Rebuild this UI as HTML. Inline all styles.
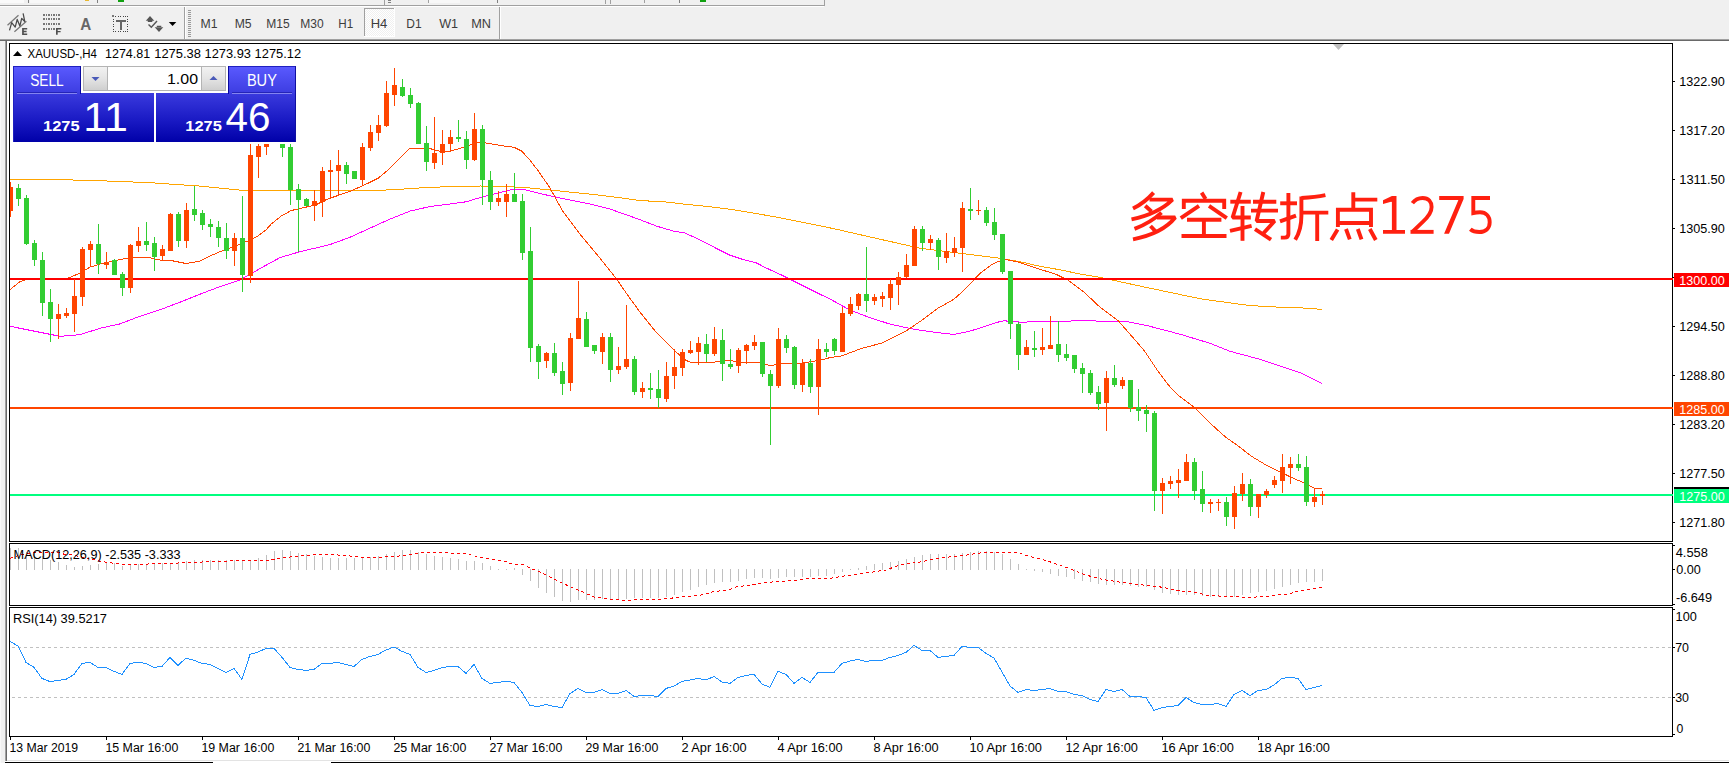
<!DOCTYPE html>
<html lang="en"><head><meta charset="utf-8"><title>XAUUSD-,H4</title>
<style>
html,body{margin:0;padding:0;background:#f0f0f0;}
body{width:1729px;height:763px;overflow:hidden;position:relative;font-family:"Liberation Sans",sans-serif;}
svg text{white-space:pre;}
</style></head><body>
<svg width="1729" height="763" viewBox="0 0 1729 763" font-family='"Liberation Sans", sans-serif' style="position:absolute;left:0;top:0;display:block">
<defs>
<linearGradient id="gTop" x1="0" y1="0" x2="0" y2="1"><stop offset="0" stop-color="#5a5aff"/><stop offset="1" stop-color="#3c3ce0"/></linearGradient>
<linearGradient id="gBot" x1="0" y1="0" x2="0" y2="1"><stop offset="0" stop-color="#3a3ade"/><stop offset="0.55" stop-color="#1a1ac4"/><stop offset="1" stop-color="#0000a8"/></linearGradient>
<linearGradient id="gBtn" x1="0" y1="0" x2="0" y2="1"><stop offset="0" stop-color="#f2f2f2"/><stop offset="0.5" stop-color="#e4e4e4"/><stop offset="1" stop-color="#cfcfcf"/></linearGradient>
<pattern id="dither" width="2" height="2" patternUnits="userSpaceOnUse"><rect width="2" height="2" fill="#ffffff"/><rect width="1" height="1" fill="#f0f0f0"/><rect x="1" y="1" width="1" height="1" fill="#f0f0f0"/></pattern>
<clipPath id="cMain"><rect x="10" y="44" width="1662" height="497"/></clipPath>
<clipPath id="cMacd"><rect x="10" y="544" width="1662" height="61"/></clipPath>
<clipPath id="cRsi"><rect x="10" y="608" width="1662" height="128"/></clipPath>
</defs>
<g shape-rendering="crispEdges">
<rect x="0" y="0" width="1729" height="763" fill="#f0f0f0"/>
<rect x="0" y="0" width="24" height="3" fill="#fafafa"/>
<rect x="28" y="0" width="1" height="3" fill="#808080"/>
<rect x="30" y="0" width="30" height="3" fill="#f8f8f8"/>
<rect x="85" y="0" width="4" height="1" fill="#e8b830"/>
<rect x="97" y="0" width="1" height="3" fill="#808080"/>
<rect x="118" y="0" width="6" height="2" fill="#10a010"/>
<rect x="384" y="0" width="1" height="5" fill="#a0a0a0"/>
<rect x="388" y="0" width="3" height="1" fill="#808080"/>
<rect x="388" y="2" width="3" height="1" fill="#808080"/>
<rect x="428" y="0" width="32" height="3" fill="#f8f8f8"/>
<rect x="428" y="0" width="1" height="3" fill="#a0a0a0"/>
<rect x="497" y="0" width="1" height="3" fill="#808080"/>
<rect x="605" y="0" width="1" height="4" fill="#a0a0a0"/>
<rect x="610" y="0" width="1" height="4" fill="#a0a0a0"/>
<rect x="644" y="0" width="1" height="3" fill="#a0a0a0"/>
<rect x="679" y="0" width="1" height="3" fill="#808080"/>
<rect x="700" y="0" width="6" height="2" fill="#10a010"/>
<rect x="824" y="0" width="1" height="6" fill="#a0a0a0"/>
<rect x="0" y="5" width="825" height="1" fill="#a0a0a0"/>
<rect x="0" y="6" width="824" height="1" fill="#ffffff"/>
<rect x="0" y="39" width="1729" height="1" fill="#a0a0a0"/>
<rect x="0" y="40" width="1729" height="1" fill="#696969"/>
<rect x="7" y="41" width="1722" height="720" fill="#ffffff"/>
<rect x="5" y="41" width="1" height="722" fill="#a0a0a0"/>
<rect x="6" y="41" width="1" height="722" fill="#696969"/>
<rect x="7" y="760" width="1722" height="1" fill="#e3e3e3"/>
<rect x="5" y="761" width="1724" height="1" fill="#ffffff"/>
<rect x="5" y="762" width="1724" height="1" fill="#000000"/>
<rect x="213" y="762" width="118" height="1" fill="#ffffff"/>
<rect x="0" y="60" width="1" height="703" fill="#f8f8f8"/>
</g>
<g id="toolbar">
<g shape-rendering="crispEdges">
<rect x="184" y="7" width="1" height="32" fill="#a0a0a0"/>
<rect x="185" y="7" width="1" height="32" fill="#ffffff"/>
<rect x="188" y="10" width="3" height="1" fill="#9a9a9a"/>
<rect x="188" y="12" width="3" height="1" fill="#9a9a9a"/>
<rect x="188" y="14" width="3" height="1" fill="#9a9a9a"/>
<rect x="188" y="16" width="3" height="1" fill="#9a9a9a"/>
<rect x="188" y="18" width="3" height="1" fill="#9a9a9a"/>
<rect x="188" y="20" width="3" height="1" fill="#9a9a9a"/>
<rect x="188" y="22" width="3" height="1" fill="#9a9a9a"/>
<rect x="188" y="24" width="3" height="1" fill="#9a9a9a"/>
<rect x="188" y="26" width="3" height="1" fill="#9a9a9a"/>
<rect x="188" y="28" width="3" height="1" fill="#9a9a9a"/>
<rect x="188" y="30" width="3" height="1" fill="#9a9a9a"/>
<rect x="188" y="32" width="3" height="1" fill="#9a9a9a"/>
<rect x="188" y="34" width="3" height="1" fill="#9a9a9a"/>
<rect x="188" y="36" width="3" height="1" fill="#9a9a9a"/>
<rect x="499" y="7" width="1" height="32" fill="#a0a0a0"/>
<rect x="500" y="7" width="1" height="32" fill="#ffffff"/>
<rect x="364" y="8" width="31" height="29" fill="url(#dither)"/>
<rect x="364" y="8" width="31" height="1" fill="#a0a0a0"/>
<rect x="364" y="8" width="1" height="29" fill="#a0a0a0"/>
<rect x="394" y="8" width="1" height="29" fill="#ffffff"/>
<rect x="364" y="36" width="31" height="1" fill="#ffffff"/>
</g>
<text x="200.6" y="28" font-size="12" fill="#3c3c3c" textLength="17.0" lengthAdjust="spacingAndGlyphs">M1</text>
<text x="234.7" y="28" font-size="12" fill="#3c3c3c" textLength="16.9" lengthAdjust="spacingAndGlyphs">M5</text>
<text x="266.2" y="28" font-size="12" fill="#3c3c3c" textLength="23.4" lengthAdjust="spacingAndGlyphs">M15</text>
<text x="300.2" y="28" font-size="12" fill="#3c3c3c" textLength="23.4" lengthAdjust="spacingAndGlyphs">M30</text>
<text x="338.3" y="28" font-size="12" fill="#3c3c3c" textLength="14.9" lengthAdjust="spacingAndGlyphs">H1</text>
<text x="370.7" y="28" font-size="12" fill="#3c3c3c" textLength="16.6" lengthAdjust="spacingAndGlyphs">H4</text>
<text x="406.3" y="28" font-size="12" fill="#3c3c3c" textLength="15.3" lengthAdjust="spacingAndGlyphs">D1</text>
<text x="439.2" y="28" font-size="12" fill="#3c3c3c" textLength="18.9" lengthAdjust="spacingAndGlyphs">W1</text>
<text x="471.2" y="28" font-size="12" fill="#3c3c3c" textLength="19.8" lengthAdjust="spacingAndGlyphs">MN</text>
<g id="icons" fill="none">
<path d="M7.5 25.3 L18.5 15.3 M14.4 31.8 L26.4 21.2" stroke="#7a7a7a" stroke-width="1.3"/>
<path d="M9.5 30.4 L11.7 22.7 L15.2 27.1 L17.2 19.4 L19.9 25.9 L21.7 18.4 L24.8 21.6 L23.1 13.3" stroke="#484848" stroke-width="1.25" stroke-linejoin="round"/>
</g>
<path d="M22.1 28.1 H27.2 V29.6 H23.8 V30.8 H26.6 V32.2 H23.8 V33.4 H27.2 V34.9 H22.1 Z" fill="#505050"/>
<g shape-rendering="crispEdges">
<rect x="43.0" y="14" width="1.5" height="2" fill="#777"/>
<rect x="45.55" y="14" width="1.5" height="2" fill="#777"/>
<rect x="48.1" y="14" width="1.5" height="2" fill="#777"/>
<rect x="50.65" y="14" width="1.5" height="2" fill="#777"/>
<rect x="53.2" y="14" width="1.5" height="2" fill="#777"/>
<rect x="55.75" y="14" width="1.5" height="2" fill="#777"/>
<rect x="58.3" y="14" width="1.5" height="2" fill="#777"/>
<rect x="43.0" y="18" width="1.5" height="2" fill="#777"/>
<rect x="45.55" y="18" width="1.5" height="2" fill="#777"/>
<rect x="48.1" y="18" width="1.5" height="2" fill="#777"/>
<rect x="50.65" y="18" width="1.5" height="2" fill="#777"/>
<rect x="53.2" y="18" width="1.5" height="2" fill="#777"/>
<rect x="55.75" y="18" width="1.5" height="2" fill="#777"/>
<rect x="58.3" y="18" width="1.5" height="2" fill="#777"/>
<rect x="43.0" y="23" width="1.5" height="2" fill="#777"/>
<rect x="45.55" y="23" width="1.5" height="2" fill="#777"/>
<rect x="48.1" y="23" width="1.5" height="2" fill="#777"/>
<rect x="50.65" y="23" width="1.5" height="2" fill="#777"/>
<rect x="53.2" y="23" width="1.5" height="2" fill="#777"/>
<rect x="55.75" y="23" width="1.5" height="2" fill="#777"/>
<rect x="58.3" y="23" width="1.5" height="2" fill="#777"/>
<rect x="43.0" y="28" width="1.5" height="2" fill="#777"/>
<rect x="45.55" y="28" width="1.5" height="2" fill="#777"/>
<rect x="48.1" y="28" width="1.5" height="2" fill="#777"/>
<rect x="50.65" y="28" width="1.5" height="2" fill="#777"/>
<rect x="53.2" y="28" width="1.5" height="2" fill="#777"/>
</g>
<path d="M56 28.1 H61.3 V29.6 H57.7 V30.9 H60.6 V32.3 H57.7 V34.8 H56 Z" fill="#505050"/>
<text x="80.3" y="29.6" font-size="16" fill="#666" textLength="11" lengthAdjust="spacingAndGlyphs" font-weight="bold">A</text>
<g shape-rendering="crispEdges">
<rect x="113.0" y="16" width="1" height="1" fill="#444"/>
<rect x="113.0" y="31" width="1" height="1" fill="#444"/>
<rect x="115.4" y="16" width="1" height="1" fill="#444"/>
<rect x="115.4" y="31" width="1" height="1" fill="#444"/>
<rect x="117.8" y="16" width="1" height="1" fill="#444"/>
<rect x="117.8" y="31" width="1" height="1" fill="#444"/>
<rect x="120.2" y="16" width="1" height="1" fill="#444"/>
<rect x="120.2" y="31" width="1" height="1" fill="#444"/>
<rect x="122.6" y="16" width="1" height="1" fill="#444"/>
<rect x="122.6" y="31" width="1" height="1" fill="#444"/>
<rect x="125.0" y="16" width="1" height="1" fill="#444"/>
<rect x="125.0" y="31" width="1" height="1" fill="#444"/>
<rect x="127.4" y="16" width="1" height="1" fill="#444"/>
<rect x="127.4" y="31" width="1" height="1" fill="#444"/>
<rect x="113" y="16.0" width="1" height="1" fill="#444"/>
<rect x="127.4" y="16.0" width="1" height="1" fill="#444"/>
<rect x="113" y="18.5" width="1" height="1" fill="#444"/>
<rect x="127.4" y="18.5" width="1" height="1" fill="#444"/>
<rect x="113" y="21.0" width="1" height="1" fill="#444"/>
<rect x="127.4" y="21.0" width="1" height="1" fill="#444"/>
<rect x="113" y="23.5" width="1" height="1" fill="#444"/>
<rect x="127.4" y="23.5" width="1" height="1" fill="#444"/>
<rect x="113" y="26.0" width="1" height="1" fill="#444"/>
<rect x="127.4" y="26.0" width="1" height="1" fill="#444"/>
<rect x="113" y="28.5" width="1" height="1" fill="#444"/>
<rect x="127.4" y="28.5" width="1" height="1" fill="#444"/>
<rect x="113" y="31.0" width="1" height="1" fill="#444"/>
<rect x="127.4" y="31.0" width="1" height="1" fill="#444"/>
<rect x="111.5" y="14.5" width="2.5" height="2" fill="#777"/>
<rect x="115.5" y="19.5" width="10" height="2" fill="#666"/>
<rect x="119.5" y="19.5" width="2.2" height="10" fill="#666"/>
</g>
<path d="M145.8 20.8 L150 16 L154.3 20.8 Z M147.8 20.5 h4.5 v1.5 h-4.5 Z" fill="#555"/>
<path d="M154.7 27.2 L159 32 L163.3 27.2 Z M156.8 25.8 h4.5 v1.6 h-4.5 Z" fill="#555"/>
<path d="M148.5 24.5 L151.3 27.3 L157 21" fill="none" stroke="#555" stroke-width="1.4"/>
<path d="M168.8 22 L176.3 22 L172.55 26 Z" fill="#000"/>
</g>
<g shape-rendering="crispEdges" fill="none" stroke="#000" stroke-width="1">
<rect x="9.5" y="43.5" width="1663" height="498"/>
<rect x="9.5" y="543.5" width="1663" height="62"/>
<rect x="9.5" y="607.5" width="1663" height="129"/>
</g>
<g id="main" clip-path="url(#cMain)">
<polyline points="10,179.5 62,179.7 110,181.1 150,182.7 200,186.1 240,190.1 290,190.5 350,190.8 370,190.7 400,189.4 410,188.5 430,187.4 450,186.6 470,186.4 480,186.0 510,186.7 530,188.0 550,190.0 570,192.1 590,194.1 610,196.5 630,199.1 640,200.6 663,201.7 686,204.3 709,206.6 732,209.5 756,213.5 779,217.6 802,222.2 825,226.8 840,230.1 880,239.2 920,248.2 960,253.2 980,255.8 1000,258.2 1020,261.7 1040,266.3 1060,269.8 1080,274.0 1100,277.3 1140,286.1 1180,294.5 1200,298.7 1220,301.5 1250,305.6 1280,307.2 1300,307.8 1322,309.4" fill="none" stroke="#FFA500" stroke-width="1" shape-rendering="crispEdges"/>
<polyline points="10,326.3 50,334.3 60,336.3 80,334.7 100,328.3 120,323.9 140,316.2 160,309.8 180,302.2 200,294.2 220,286.6 240,280.1 260,268.6 270,263.0 280,257.6 300,251.7 320,247.0 330,244.6 350,237.2 370,228.2 390,219.1 410,211.1 430,206.5 450,204.0 466,201.8 482,197.0 496,193.4 510,190.0 516,189.5 524,189.5 538,193.1 550,195.8 570,200.1 590,204.1 610,209.1 630,216.1 640,219.7 657,226.3 675,231.5 684,232.6 698,239.0 715,247.7 730,255.2 744,259.8 756,262.7 766,267.9 780,274.3 800,284.3 820,294.3 830,299.0 850,310.1 870,317.7 890,324.1 910,328.5 930,331.7 954,334.5 970,331.1 986,326.1 1000,321.5 1004,320.8 1020,322.1 1050,321.7 1060,321.5 1082,320.5 1110,321.5 1126,321.4 1148,325.8 1160,329.0 1180,334.2 1210,343.3 1230,351.3 1260,359.3 1280,365.9 1300,372.7 1322,383.4" fill="none" stroke="#FF00FF" stroke-width="1" shape-rendering="crispEdges"/>
<polyline points="10,289.6 20,281.7 26,279.7 40,279.0 66,278.6 70,277.4 80,273.1 90,267.1 100,264.1 120,259.5 136,257.1 150,257.7 160,260.1 172,260.7 186,263.5 200,261.1 212,255.1 224,250.1 236,246.0 250,240.0 258,236.0 266,230.0 271,224.2 281,216.2 291,210.6 301,208.2 315,205.2 325,200.2 333,197.2 350,191.4 370,182.3 378,178.3 390,168.3 402,156.3 410,148.2 430,148.6 442,151.9 450,151.3 464,147.2 478,142.2 488,143.2 502,145.8 514,147.2 522,151.3 530,160.3 538,170.5 550,188.0 562,210.0 580,234.2 600,258.2 616,278.3 630,298.4 640,312.1 656,332.1 674,350.2 686,360.4 691,362.4 712,362.4 720,361.4 728,360.2 744,362.6 758,362.6 770,365.6 784,363.6 800,363.6 820,360.2 830,357.6 842,355.8 862,348.2 882,343.1 906,331.1 922,320.1 938,308.2 954,299.2 966,288.3 980,273.3 992,264.3 1004,259.2 1018,261.9 1040,269.3 1056,274.3 1068,280.1 1084,292.1 1100,307.2 1118,320.5 1130,334.2 1144,350.3 1156,368.3 1168,384.6 1178,395.2 1194,407.1 1210,423.1 1226,437.5 1237,445.0 1251,456.0 1268,466.2 1280,472.0 1291.5,477.4 1303,482.5 1314,488.0 1322,488.4" fill="none" stroke="#FF4500" stroke-width="1" shape-rendering="crispEdges"/>
<g shape-rendering="crispEdges">
<rect x="10" y="278" width="1662" height="2" fill="#FF0000"/>
<rect x="10" y="407" width="1662" height="2" fill="#FF4500"/>
<rect x="10" y="494" width="1662" height="2" fill="#00FF7F"/>
<rect x="10" y="182" width="1" height="35" fill="#FF4500"/>
<rect x="8" y="187" width="5" height="24" fill="#FF4500"/>
<rect x="18" y="184" width="1" height="22" fill="#32CD32"/>
<rect x="16" y="188" width="5" height="11" fill="#32CD32"/>
<rect x="26" y="195" width="1" height="50" fill="#32CD32"/>
<rect x="24" y="198" width="5" height="46" fill="#32CD32"/>
<rect x="34" y="240" width="1" height="26" fill="#32CD32"/>
<rect x="32" y="243" width="5" height="17" fill="#32CD32"/>
<rect x="42" y="252" width="1" height="64" fill="#32CD32"/>
<rect x="40" y="260" width="5" height="43" fill="#32CD32"/>
<rect x="50" y="289" width="1" height="53" fill="#32CD32"/>
<rect x="48" y="302" width="5" height="17" fill="#32CD32"/>
<rect x="58" y="304" width="1" height="35" fill="#FF4500"/>
<rect x="56" y="314" width="5" height="5" fill="#FF4500"/>
<rect x="66" y="308" width="1" height="10" fill="#FF4500"/>
<rect x="64" y="313" width="5" height="3" fill="#FF4500"/>
<rect x="74" y="279" width="1" height="53" fill="#FF4500"/>
<rect x="72" y="296" width="5" height="18" fill="#FF4500"/>
<rect x="82" y="247" width="1" height="59" fill="#FF4500"/>
<rect x="80" y="249" width="5" height="48" fill="#FF4500"/>
<rect x="90" y="241" width="1" height="26" fill="#FF4500"/>
<rect x="88" y="244" width="5" height="6" fill="#FF4500"/>
<rect x="98" y="224" width="1" height="50" fill="#32CD32"/>
<rect x="96" y="244" width="5" height="20" fill="#32CD32"/>
<rect x="106" y="252" width="1" height="17" fill="#FF4500"/>
<rect x="104" y="262" width="5" height="3" fill="#FF4500"/>
<rect x="114" y="259" width="1" height="16" fill="#32CD32"/>
<rect x="112" y="260" width="5" height="15" fill="#32CD32"/>
<rect x="122" y="272" width="1" height="24" fill="#32CD32"/>
<rect x="120" y="274" width="5" height="14" fill="#32CD32"/>
<rect x="130" y="244" width="1" height="49" fill="#FF4500"/>
<rect x="128" y="245" width="5" height="43" fill="#FF4500"/>
<rect x="138" y="227" width="1" height="25" fill="#FF4500"/>
<rect x="136" y="241" width="5" height="5" fill="#FF4500"/>
<rect x="146" y="222" width="1" height="29" fill="#32CD32"/>
<rect x="144" y="241" width="5" height="4" fill="#32CD32"/>
<rect x="154" y="237" width="1" height="34" fill="#32CD32"/>
<rect x="152" y="243" width="5" height="14" fill="#32CD32"/>
<rect x="162" y="245" width="1" height="15" fill="#FF4500"/>
<rect x="160" y="249" width="5" height="7" fill="#FF4500"/>
<rect x="170" y="213" width="1" height="38" fill="#FF4500"/>
<rect x="168" y="214" width="5" height="37" fill="#FF4500"/>
<rect x="178" y="212" width="1" height="35" fill="#32CD32"/>
<rect x="176" y="214" width="5" height="27" fill="#32CD32"/>
<rect x="186" y="203" width="1" height="45" fill="#FF4500"/>
<rect x="184" y="210" width="5" height="31" fill="#FF4500"/>
<rect x="194" y="186" width="1" height="35" fill="#32CD32"/>
<rect x="192" y="209" width="5" height="6" fill="#32CD32"/>
<rect x="202" y="210" width="1" height="20" fill="#32CD32"/>
<rect x="200" y="213" width="5" height="12" fill="#32CD32"/>
<rect x="210" y="219" width="1" height="18" fill="#32CD32"/>
<rect x="208" y="224" width="5" height="3" fill="#32CD32"/>
<rect x="218" y="221" width="1" height="26" fill="#32CD32"/>
<rect x="216" y="227" width="5" height="11" fill="#32CD32"/>
<rect x="226" y="223" width="1" height="36" fill="#32CD32"/>
<rect x="224" y="238" width="5" height="13" fill="#32CD32"/>
<rect x="234" y="233" width="1" height="33" fill="#FF4500"/>
<rect x="232" y="238" width="5" height="13" fill="#FF4500"/>
<rect x="242" y="196" width="1" height="96" fill="#32CD32"/>
<rect x="240" y="238" width="5" height="37" fill="#32CD32"/>
<rect x="250" y="142" width="1" height="141" fill="#FF4500"/>
<rect x="248" y="155" width="5" height="121" fill="#FF4500"/>
<rect x="258" y="142" width="1" height="36" fill="#FF4500"/>
<rect x="256" y="146" width="5" height="11" fill="#FF4500"/>
<rect x="266" y="142" width="1" height="13" fill="#FF4500"/>
<rect x="264" y="144" width="5" height="3" fill="#FF4500"/>
<rect x="282" y="142" width="1" height="15" fill="#32CD32"/>
<rect x="280" y="142" width="5" height="6" fill="#32CD32"/>
<rect x="290" y="142" width="1" height="63" fill="#32CD32"/>
<rect x="288" y="147" width="5" height="43" fill="#32CD32"/>
<rect x="298" y="184" width="1" height="68" fill="#32CD32"/>
<rect x="296" y="189" width="5" height="11" fill="#32CD32"/>
<rect x="306" y="198" width="1" height="8" fill="#32CD32"/>
<rect x="304" y="199" width="5" height="7" fill="#32CD32"/>
<rect x="314" y="190" width="1" height="31" fill="#FF4500"/>
<rect x="312" y="201" width="5" height="5" fill="#FF4500"/>
<rect x="322" y="167" width="1" height="50" fill="#FF4500"/>
<rect x="320" y="171" width="5" height="31" fill="#FF4500"/>
<rect x="330" y="160" width="1" height="38" fill="#FF4500"/>
<rect x="328" y="170" width="5" height="2" fill="#FF4500"/>
<rect x="338" y="150" width="1" height="46" fill="#FF4500"/>
<rect x="336" y="165" width="5" height="6" fill="#FF4500"/>
<rect x="346" y="162" width="1" height="22" fill="#32CD32"/>
<rect x="344" y="165" width="5" height="9" fill="#32CD32"/>
<rect x="354" y="171" width="1" height="8" fill="#32CD32"/>
<rect x="352" y="171" width="5" height="8" fill="#32CD32"/>
<rect x="362" y="143" width="1" height="42" fill="#FF4500"/>
<rect x="360" y="147" width="5" height="33" fill="#FF4500"/>
<rect x="370" y="125" width="1" height="26" fill="#FF4500"/>
<rect x="368" y="132" width="5" height="16" fill="#FF4500"/>
<rect x="378" y="115" width="1" height="26" fill="#FF4500"/>
<rect x="376" y="125" width="5" height="8" fill="#FF4500"/>
<rect x="386" y="81" width="1" height="46" fill="#FF4500"/>
<rect x="384" y="93" width="5" height="33" fill="#FF4500"/>
<rect x="394" y="68" width="1" height="38" fill="#FF4500"/>
<rect x="392" y="85" width="5" height="10" fill="#FF4500"/>
<rect x="402" y="79" width="1" height="18" fill="#32CD32"/>
<rect x="400" y="87" width="5" height="9" fill="#32CD32"/>
<rect x="410" y="88" width="1" height="20" fill="#32CD32"/>
<rect x="408" y="95" width="5" height="9" fill="#32CD32"/>
<rect x="418" y="102" width="1" height="42" fill="#32CD32"/>
<rect x="416" y="103" width="5" height="41" fill="#32CD32"/>
<rect x="426" y="126" width="1" height="45" fill="#32CD32"/>
<rect x="424" y="143" width="5" height="19" fill="#32CD32"/>
<rect x="434" y="117" width="1" height="52" fill="#FF4500"/>
<rect x="432" y="153" width="5" height="10" fill="#FF4500"/>
<rect x="442" y="130" width="1" height="35" fill="#FF4500"/>
<rect x="440" y="144" width="5" height="9" fill="#FF4500"/>
<rect x="450" y="130" width="1" height="22" fill="#FF4500"/>
<rect x="448" y="137" width="5" height="7" fill="#FF4500"/>
<rect x="458" y="120" width="1" height="22" fill="#32CD32"/>
<rect x="456" y="137" width="5" height="2" fill="#32CD32"/>
<rect x="466" y="131" width="1" height="38" fill="#32CD32"/>
<rect x="464" y="139" width="5" height="21" fill="#32CD32"/>
<rect x="474" y="113" width="1" height="48" fill="#FF4500"/>
<rect x="472" y="129" width="5" height="31" fill="#FF4500"/>
<rect x="482" y="125" width="1" height="80" fill="#32CD32"/>
<rect x="480" y="129" width="5" height="51" fill="#32CD32"/>
<rect x="490" y="171" width="1" height="39" fill="#32CD32"/>
<rect x="488" y="180" width="5" height="22" fill="#32CD32"/>
<rect x="498" y="191" width="1" height="15" fill="#FF4500"/>
<rect x="496" y="198" width="5" height="4" fill="#FF4500"/>
<rect x="506" y="184" width="1" height="33" fill="#FF4500"/>
<rect x="504" y="194" width="5" height="8" fill="#FF4500"/>
<rect x="514" y="173" width="1" height="29" fill="#32CD32"/>
<rect x="512" y="194" width="5" height="8" fill="#32CD32"/>
<rect x="522" y="194" width="1" height="66" fill="#32CD32"/>
<rect x="520" y="201" width="5" height="52" fill="#32CD32"/>
<rect x="530" y="227" width="1" height="135" fill="#32CD32"/>
<rect x="528" y="251" width="5" height="97" fill="#32CD32"/>
<rect x="538" y="344" width="1" height="35" fill="#32CD32"/>
<rect x="536" y="346" width="5" height="16" fill="#32CD32"/>
<rect x="546" y="352" width="1" height="16" fill="#FF4500"/>
<rect x="544" y="353" width="5" height="8" fill="#FF4500"/>
<rect x="554" y="343" width="1" height="33" fill="#32CD32"/>
<rect x="552" y="353" width="5" height="20" fill="#32CD32"/>
<rect x="562" y="362" width="1" height="33" fill="#32CD32"/>
<rect x="560" y="371" width="5" height="13" fill="#32CD32"/>
<rect x="570" y="333" width="1" height="58" fill="#FF4500"/>
<rect x="568" y="338" width="5" height="45" fill="#FF4500"/>
<rect x="578" y="281" width="1" height="58" fill="#FF4500"/>
<rect x="576" y="318" width="5" height="21" fill="#FF4500"/>
<rect x="586" y="312" width="1" height="35" fill="#32CD32"/>
<rect x="584" y="319" width="5" height="28" fill="#32CD32"/>
<rect x="594" y="345" width="1" height="9" fill="#32CD32"/>
<rect x="592" y="345" width="5" height="6" fill="#32CD32"/>
<rect x="602" y="333" width="1" height="31" fill="#FF4500"/>
<rect x="600" y="337" width="5" height="15" fill="#FF4500"/>
<rect x="610" y="333" width="1" height="49" fill="#32CD32"/>
<rect x="608" y="337" width="5" height="33" fill="#32CD32"/>
<rect x="618" y="347" width="1" height="27" fill="#FF4500"/>
<rect x="616" y="366" width="5" height="4" fill="#FF4500"/>
<rect x="626" y="305" width="1" height="64" fill="#FF4500"/>
<rect x="624" y="359" width="5" height="8" fill="#FF4500"/>
<rect x="634" y="356" width="1" height="39" fill="#32CD32"/>
<rect x="632" y="359" width="5" height="33" fill="#32CD32"/>
<rect x="642" y="382" width="1" height="16" fill="#FF4500"/>
<rect x="640" y="388" width="5" height="4" fill="#FF4500"/>
<rect x="650" y="373" width="1" height="26" fill="#32CD32"/>
<rect x="648" y="388" width="5" height="2" fill="#32CD32"/>
<rect x="658" y="370" width="1" height="38" fill="#32CD32"/>
<rect x="656" y="389" width="5" height="9" fill="#32CD32"/>
<rect x="666" y="362" width="1" height="40" fill="#FF4500"/>
<rect x="664" y="376" width="5" height="23" fill="#FF4500"/>
<rect x="674" y="349" width="1" height="40" fill="#FF4500"/>
<rect x="672" y="367" width="5" height="9" fill="#FF4500"/>
<rect x="682" y="349" width="1" height="27" fill="#FF4500"/>
<rect x="680" y="352" width="5" height="16" fill="#FF4500"/>
<rect x="690" y="341" width="1" height="13" fill="#FF4500"/>
<rect x="688" y="350" width="5" height="3" fill="#FF4500"/>
<rect x="698" y="337" width="1" height="28" fill="#FF4500"/>
<rect x="696" y="343" width="5" height="9" fill="#FF4500"/>
<rect x="706" y="334" width="1" height="28" fill="#32CD32"/>
<rect x="704" y="344" width="5" height="10" fill="#32CD32"/>
<rect x="714" y="327" width="1" height="29" fill="#FF4500"/>
<rect x="712" y="339" width="5" height="15" fill="#FF4500"/>
<rect x="722" y="329" width="1" height="52" fill="#32CD32"/>
<rect x="720" y="340" width="5" height="24" fill="#32CD32"/>
<rect x="730" y="349" width="1" height="20" fill="#32CD32"/>
<rect x="728" y="364" width="5" height="3" fill="#32CD32"/>
<rect x="738" y="348" width="1" height="25" fill="#FF4500"/>
<rect x="736" y="350" width="5" height="16" fill="#FF4500"/>
<rect x="746" y="344" width="1" height="20" fill="#FF4500"/>
<rect x="744" y="345" width="5" height="6" fill="#FF4500"/>
<rect x="754" y="335" width="1" height="15" fill="#FF4500"/>
<rect x="752" y="342" width="5" height="4" fill="#FF4500"/>
<rect x="762" y="342" width="1" height="35" fill="#32CD32"/>
<rect x="760" y="342" width="5" height="32" fill="#32CD32"/>
<rect x="770" y="370" width="1" height="75" fill="#32CD32"/>
<rect x="768" y="374" width="5" height="12" fill="#32CD32"/>
<rect x="778" y="328" width="1" height="60" fill="#FF4500"/>
<rect x="776" y="339" width="5" height="47" fill="#FF4500"/>
<rect x="786" y="335" width="1" height="18" fill="#32CD32"/>
<rect x="784" y="339" width="5" height="9" fill="#32CD32"/>
<rect x="794" y="346" width="1" height="43" fill="#32CD32"/>
<rect x="792" y="347" width="5" height="38" fill="#32CD32"/>
<rect x="802" y="359" width="1" height="33" fill="#FF4500"/>
<rect x="800" y="363" width="5" height="22" fill="#FF4500"/>
<rect x="810" y="359" width="1" height="34" fill="#32CD32"/>
<rect x="808" y="363" width="5" height="24" fill="#32CD32"/>
<rect x="818" y="339" width="1" height="76" fill="#FF4500"/>
<rect x="816" y="349" width="5" height="38" fill="#FF4500"/>
<rect x="826" y="343" width="1" height="14" fill="#32CD32"/>
<rect x="824" y="349" width="5" height="3" fill="#32CD32"/>
<rect x="834" y="338" width="1" height="17" fill="#32CD32"/>
<rect x="832" y="339" width="5" height="12" fill="#32CD32"/>
<rect x="842" y="307" width="1" height="45" fill="#FF4500"/>
<rect x="840" y="313" width="5" height="39" fill="#FF4500"/>
<rect x="850" y="297" width="1" height="19" fill="#FF4500"/>
<rect x="848" y="304" width="5" height="10" fill="#FF4500"/>
<rect x="858" y="293" width="1" height="17" fill="#FF4500"/>
<rect x="856" y="294" width="5" height="12" fill="#FF4500"/>
<rect x="866" y="247" width="1" height="65" fill="#32CD32"/>
<rect x="864" y="294" width="5" height="7" fill="#32CD32"/>
<rect x="874" y="294" width="1" height="11" fill="#FF4500"/>
<rect x="872" y="297" width="5" height="4" fill="#FF4500"/>
<rect x="882" y="292" width="1" height="15" fill="#FF4500"/>
<rect x="880" y="296" width="5" height="3" fill="#FF4500"/>
<rect x="890" y="279" width="1" height="31" fill="#FF4500"/>
<rect x="888" y="284" width="5" height="14" fill="#FF4500"/>
<rect x="898" y="272" width="1" height="33" fill="#FF4500"/>
<rect x="896" y="277" width="5" height="8" fill="#FF4500"/>
<rect x="906" y="254" width="1" height="24" fill="#FF4500"/>
<rect x="904" y="265" width="5" height="12" fill="#FF4500"/>
<rect x="914" y="226" width="1" height="40" fill="#FF4500"/>
<rect x="912" y="229" width="5" height="37" fill="#FF4500"/>
<rect x="922" y="226" width="1" height="25" fill="#32CD32"/>
<rect x="920" y="229" width="5" height="14" fill="#32CD32"/>
<rect x="930" y="235" width="1" height="15" fill="#FF4500"/>
<rect x="928" y="239" width="5" height="4" fill="#FF4500"/>
<rect x="938" y="238" width="1" height="32" fill="#32CD32"/>
<rect x="936" y="240" width="5" height="17" fill="#32CD32"/>
<rect x="946" y="233" width="1" height="30" fill="#FF4500"/>
<rect x="944" y="251" width="5" height="7" fill="#FF4500"/>
<rect x="954" y="237" width="1" height="20" fill="#FF4500"/>
<rect x="952" y="248" width="5" height="5" fill="#FF4500"/>
<rect x="962" y="202" width="1" height="70" fill="#FF4500"/>
<rect x="960" y="208" width="5" height="40" fill="#FF4500"/>
<rect x="970" y="188" width="1" height="32" fill="#32CD32"/>
<rect x="968" y="209" width="5" height="2" fill="#32CD32"/>
<rect x="978" y="200" width="1" height="15" fill="#FF4500"/>
<rect x="976" y="210" width="5" height="1" fill="#FF4500"/>
<rect x="986" y="207" width="1" height="19" fill="#32CD32"/>
<rect x="984" y="210" width="5" height="13" fill="#32CD32"/>
<rect x="994" y="208" width="1" height="32" fill="#32CD32"/>
<rect x="992" y="222" width="5" height="13" fill="#32CD32"/>
<rect x="1002" y="234" width="1" height="40" fill="#32CD32"/>
<rect x="1000" y="234" width="5" height="38" fill="#32CD32"/>
<rect x="1010" y="271" width="1" height="68" fill="#32CD32"/>
<rect x="1008" y="271" width="5" height="53" fill="#32CD32"/>
<rect x="1018" y="322" width="1" height="48" fill="#32CD32"/>
<rect x="1016" y="324" width="5" height="31" fill="#32CD32"/>
<rect x="1026" y="340" width="1" height="15" fill="#FF4500"/>
<rect x="1024" y="347" width="5" height="8" fill="#FF4500"/>
<rect x="1034" y="331" width="1" height="26" fill="#32CD32"/>
<rect x="1032" y="348" width="5" height="2" fill="#32CD32"/>
<rect x="1042" y="328" width="1" height="27" fill="#FF4500"/>
<rect x="1040" y="347" width="5" height="3" fill="#FF4500"/>
<rect x="1050" y="316" width="1" height="33" fill="#FF4500"/>
<rect x="1048" y="345" width="5" height="4" fill="#FF4500"/>
<rect x="1058" y="321" width="1" height="41" fill="#32CD32"/>
<rect x="1056" y="344" width="5" height="11" fill="#32CD32"/>
<rect x="1066" y="344" width="1" height="17" fill="#32CD32"/>
<rect x="1064" y="354" width="5" height="4" fill="#32CD32"/>
<rect x="1074" y="355" width="1" height="18" fill="#32CD32"/>
<rect x="1072" y="355" width="5" height="14" fill="#32CD32"/>
<rect x="1082" y="363" width="1" height="30" fill="#32CD32"/>
<rect x="1080" y="368" width="5" height="6" fill="#32CD32"/>
<rect x="1090" y="370" width="1" height="25" fill="#32CD32"/>
<rect x="1088" y="373" width="5" height="20" fill="#32CD32"/>
<rect x="1098" y="386" width="1" height="24" fill="#32CD32"/>
<rect x="1096" y="392" width="5" height="12" fill="#32CD32"/>
<rect x="1106" y="371" width="1" height="60" fill="#FF4500"/>
<rect x="1104" y="378" width="5" height="25" fill="#FF4500"/>
<rect x="1114" y="365" width="1" height="22" fill="#32CD32"/>
<rect x="1112" y="378" width="5" height="7" fill="#32CD32"/>
<rect x="1122" y="377" width="1" height="12" fill="#FF4500"/>
<rect x="1120" y="380" width="5" height="6" fill="#FF4500"/>
<rect x="1130" y="380" width="1" height="32" fill="#32CD32"/>
<rect x="1128" y="380" width="5" height="28" fill="#32CD32"/>
<rect x="1138" y="389" width="1" height="32" fill="#32CD32"/>
<rect x="1136" y="407" width="5" height="4" fill="#32CD32"/>
<rect x="1146" y="405" width="1" height="27" fill="#32CD32"/>
<rect x="1144" y="410" width="5" height="4" fill="#32CD32"/>
<rect x="1154" y="411" width="1" height="100" fill="#32CD32"/>
<rect x="1152" y="413" width="5" height="78" fill="#32CD32"/>
<rect x="1162" y="478" width="1" height="36" fill="#FF4500"/>
<rect x="1160" y="483" width="5" height="8" fill="#FF4500"/>
<rect x="1170" y="476" width="1" height="13" fill="#FF4500"/>
<rect x="1168" y="481" width="5" height="3" fill="#FF4500"/>
<rect x="1178" y="469" width="1" height="29" fill="#FF4500"/>
<rect x="1176" y="480" width="5" height="3" fill="#FF4500"/>
<rect x="1186" y="454" width="1" height="27" fill="#FF4500"/>
<rect x="1184" y="462" width="5" height="19" fill="#FF4500"/>
<rect x="1194" y="458" width="1" height="42" fill="#32CD32"/>
<rect x="1192" y="462" width="5" height="29" fill="#32CD32"/>
<rect x="1202" y="471" width="1" height="41" fill="#32CD32"/>
<rect x="1200" y="489" width="5" height="15" fill="#32CD32"/>
<rect x="1210" y="499" width="1" height="14" fill="#FF4500"/>
<rect x="1208" y="502" width="5" height="2" fill="#FF4500"/>
<rect x="1218" y="499" width="1" height="12" fill="#FF4500"/>
<rect x="1216" y="502" width="5" height="1" fill="#FF4500"/>
<rect x="1226" y="497" width="1" height="29" fill="#32CD32"/>
<rect x="1224" y="502" width="5" height="15" fill="#32CD32"/>
<rect x="1234" y="486" width="1" height="43" fill="#FF4500"/>
<rect x="1232" y="493" width="5" height="24" fill="#FF4500"/>
<rect x="1242" y="473" width="1" height="28" fill="#FF4500"/>
<rect x="1240" y="484" width="5" height="10" fill="#FF4500"/>
<rect x="1250" y="479" width="1" height="37" fill="#32CD32"/>
<rect x="1248" y="484" width="5" height="23" fill="#32CD32"/>
<rect x="1258" y="494" width="1" height="24" fill="#FF4500"/>
<rect x="1256" y="494" width="5" height="13" fill="#FF4500"/>
<rect x="1266" y="489" width="1" height="9" fill="#FF4500"/>
<rect x="1264" y="491" width="5" height="4" fill="#FF4500"/>
<rect x="1274" y="476" width="1" height="12" fill="#FF4500"/>
<rect x="1272" y="480" width="5" height="5" fill="#FF4500"/>
<rect x="1282" y="454" width="1" height="39" fill="#FF4500"/>
<rect x="1280" y="467" width="5" height="14" fill="#FF4500"/>
<rect x="1290" y="457" width="1" height="27" fill="#FF4500"/>
<rect x="1288" y="464" width="5" height="4" fill="#FF4500"/>
<rect x="1298" y="454" width="1" height="17" fill="#32CD32"/>
<rect x="1296" y="464" width="5" height="4" fill="#32CD32"/>
<rect x="1306" y="456" width="1" height="50" fill="#32CD32"/>
<rect x="1304" y="467" width="5" height="35" fill="#32CD32"/>
<rect x="1314" y="488" width="1" height="19" fill="#FF4500"/>
<rect x="1312" y="497" width="5" height="5" fill="#FF4500"/>
<rect x="1322" y="491" width="1" height="14" fill="#FF4500"/>
<rect x="1320" y="494" width="5" height="2" fill="#FF4500"/>
</g>
</g>
<g shape-rendering="crispEdges">
<rect x="1672" y="278" width="1" height="2" fill="#FF0000"/>
<rect x="1672" y="407" width="1" height="2" fill="#FF4500"/>
<rect x="1672" y="494" width="1" height="2" fill="#00FF7F"/>
</g>
<path d="M1333 44 L1344 44 L1338.5 50 Z" fill="#c0c0c0"/>
<g id="anno" fill="none" stroke="#FF2010" stroke-width="3.9" stroke-linecap="butt" stroke-linejoin="miter" stroke-miterlimit="1.6">
<path d="M1153.6 192.6 C1148 199 1141 204.5 1133 208.6"/>
<path d="M1149.5 199.6 H1172.5 C1163 209 1150 215.5 1131.5 219.4"/>
<path d="M1145.2 205.8 L1151.5 211.5"/>
<path d="M1161.5 212.6 C1154 219.5 1146 224.5 1134.5 228.9"/>
<path d="M1157 217.5 H1175.2 C1166 229 1152 235.5 1133 239.3"/>
<path d="M1150.5 226 L1156 231.8"/>
<path d="M1201.6 192.6 L1205.6 199"/>
<path d="M1183.8 209 V200.8 H1224.2 V209"/>
<path d="M1199 205.8 L1180.8 218.2"/>
<path d="M1209 205.8 L1226.8 218.2"/>
<path d="M1187 219.8 H1221.4 M1203.9 219.8 V236 M1181.5 236 H1226.5"/>
<path d="M1230.3 201.7 H1250.8"/>
<path d="M1240.6 192 L1232.6 217.5 H1250.8"/>
<path d="M1242.5 206 V240.8"/>
<path d="M1230 230.8 L1251.6 225.8"/>
<path d="M1253 201.7 H1276.3 M1251 210.6 H1278"/>
<path d="M1263.3 192 L1256.6 221 H1274.6 L1263 233.8"/>
<path d="M1255 229.2 L1271 239.6"/>
<path d="M1280.2 203.3 H1297"/>
<path d="M1288.4 193 V234 Q1288.4 237.6 1284.5 237.6 H1280.8"/>
<path d="M1280 221.4 L1296 215.6"/>
<path d="M1325.4 195.2 C1318 196.8 1310 197.6 1301.4 198"/>
<path d="M1301.4 196.5 V216 C1301.4 226 1299.5 233 1295.2 239.8"/>
<path d="M1301.4 212.6 H1328.3 M1317.2 212.6 V241"/>
<path d="M1353.3 192.2 V209.8 M1353.3 199.6 H1377.3"/>
<path d="M1337.9 227 V209.8 H1371 V227 M1337.9 223 H1371"/>
<path d="M1337.6 229.6 L1331.3 240 M1346 229 L1349.8 239.3 M1357.8 229 L1361.5 239.3 M1369.8 229 L1375.8 240"/>
</g>
<g id="anno-digits" fill="none" stroke="#FF2010" stroke-width="3.9" stroke-linejoin="miter" stroke-miterlimit="3">
<path d="M1391.9 196 H1396.5 V233.8 H1391.9 Z M1383 229.9 H1405 V233.8 H1383 Z M1391.9 196 L1383 200.2 V204.1 L1391.9 201.4 Z" fill="#FF2010" stroke="none"/>
<path d="M1412.4 203.2 C1415 199.6 1418.8 198 1422.6 198 C1428.6 198 1431.6 202 1431.6 207 C1431.6 213 1428 217 1423 221.6 L1412.6 231.6"/>
<path d="M1410.5 229.9 H1433.6 V233.8 H1410.5 Z" fill="#FF2010" stroke="none"/>
<path d="M1439.2 196 H1463.6 V199 L1449 233.8 H1444.1 L1458.4 199.9 H1439.2 Z" fill="#FF2010" stroke="none"/>
<path d="M1490 198 H1473.3 V213 C1476 212.4 1478 212.3 1480 212.3 C1486 212.3 1489.7 216.4 1489.7 222.3 C1489.7 228.4 1485.4 232 1479.4 232 C1475.4 232 1472.4 231 1470.3 229.2"/>
</g>
<g id="panel">
<g shape-rendering="crispEdges">
<rect x="13" y="66" width="283" height="78" fill="#ffffff"/>
<rect x="13" y="66" width="68" height="28" fill="url(#gTop)"/>
<rect x="228" y="66" width="68" height="28" fill="url(#gTop)"/>
<rect x="13" y="93" width="141" height="49" fill="url(#gBot)"/>
<rect x="156" y="93" width="140" height="49" fill="url(#gBot)"/>
<rect x="13" y="93" width="68" height="1" fill="#3c3ce0"/>
<rect x="228" y="93" width="68" height="1" fill="#3c3ce0"/>
<rect x="17" y="92" width="60" height="1" fill="#2424b8"/>
<rect x="232" y="92" width="60" height="1" fill="#2424b8"/>
<rect x="17" y="93" width="60" height="1" fill="#8484f0"/>
<rect x="232" y="93" width="60" height="1" fill="#8484f0"/>
<rect x="13" y="66" width="68" height="1" fill="#2020c0"/>
<rect x="13" y="66" width="1" height="76" fill="#2020c0"/>
<rect x="228" y="66" width="68" height="1" fill="#2020c0"/>
<rect x="295" y="66" width="1" height="76" fill="#1010a0"/>
<rect x="80" y="66" width="1" height="28" fill="#0808a0"/>
<rect x="228" y="66" width="1" height="28" fill="#0808a0"/>
<rect x="83" y="66" width="143" height="25" fill="#b4b4b4"/>
<rect x="84" y="67" width="141" height="23" fill="#ffffff"/>
<rect x="84" y="67" width="23" height="23" fill="url(#gBtn)"/>
<rect x="202" y="67" width="23" height="23" fill="url(#gBtn)"/>
<rect x="107" y="67" width="1" height="23" fill="#b4b4b4"/>
<rect x="201" y="67" width="1" height="23" fill="#b4b4b4"/>
</g>
<path d="M91.5 77 L99.5 77 L95.5 81 Z" fill="#4a5ab8"/>
<path d="M209.5 80 L217.5 80 L213.5 76 Z" fill="#4a5ab8"/>
<text x="30.2" y="85.6" font-size="16" fill="#fff" textLength="33.5" lengthAdjust="spacingAndGlyphs">SELL</text>
<text x="246.9" y="85.6" font-size="16" fill="#fff" textLength="30" lengthAdjust="spacingAndGlyphs">BUY</text>
<text x="167" y="84" font-size="15.5" fill="#000" textLength="31" lengthAdjust="spacingAndGlyphs">1.00</text>
<text x="43" y="131" font-size="15.5" fill="#fff" textLength="36.6" lengthAdjust="spacingAndGlyphs" font-weight="bold">1275</text>
<text x="185.3" y="131" font-size="15.5" fill="#fff" textLength="36.6" lengthAdjust="spacingAndGlyphs" font-weight="bold">1275</text>
<text x="83.2" y="131" font-size="41.5" fill="#fff" textLength="44.6" lengthAdjust="spacingAndGlyphs">11</text>
<text x="225.4" y="131" font-size="41.5" fill="#fff" textLength="45" lengthAdjust="spacingAndGlyphs">46</text>
</g>
<path d="M13 56 L22 56 L17.5 51 Z" fill="#000"/>
<text x="27.5" y="58" font-size="12" fill="#000" textLength="69.5" lengthAdjust="spacingAndGlyphs">XAUUSD-,H4</text>
<text x="105.0" y="58" font-size="12" fill="#000" textLength="45.2" lengthAdjust="spacingAndGlyphs">1274.81</text>
<text x="154.2" y="58" font-size="12" fill="#000" textLength="46.8" lengthAdjust="spacingAndGlyphs">1275.38</text>
<text x="204.5" y="58" font-size="12" fill="#000" textLength="46.5" lengthAdjust="spacingAndGlyphs">1273.93</text>
<text x="254.6" y="58" font-size="12" fill="#000" textLength="46.5" lengthAdjust="spacingAndGlyphs">1275.12</text>
<g shape-rendering="crispEdges">
<rect x="1673" y="81" width="2" height="1" fill="#000"/>
<rect x="1673" y="130" width="2" height="1" fill="#000"/>
<rect x="1673" y="179" width="2" height="1" fill="#000"/>
<rect x="1673" y="228" width="2" height="1" fill="#000"/>
<rect x="1673" y="277" width="2" height="1" fill="#000"/>
<rect x="1673" y="326" width="2" height="1" fill="#000"/>
<rect x="1673" y="375" width="2" height="1" fill="#000"/>
<rect x="1673" y="424" width="2" height="1" fill="#000"/>
<rect x="1673" y="473" width="2" height="1" fill="#000"/>
<rect x="1673" y="522" width="2" height="1" fill="#000"/>
<rect x="1673" y="545" width="2" height="1" fill="#000"/>
<rect x="1673" y="569" width="2" height="1" fill="#000"/>
<rect x="1673" y="604" width="2" height="1" fill="#000"/>
<rect x="1673" y="609" width="2" height="1" fill="#000"/>
<rect x="1673" y="647" width="2" height="1" fill="#000"/>
<rect x="1673" y="697" width="2" height="1" fill="#000"/>
<rect x="1673" y="734" width="2" height="1" fill="#000"/>
</g>
<text x="1679.3" y="86" font-size="12" fill="#000" textLength="45.6" lengthAdjust="spacingAndGlyphs">1322.90</text>
<text x="1679.3" y="135" font-size="12" fill="#000" textLength="45.6" lengthAdjust="spacingAndGlyphs">1317.20</text>
<text x="1679.3" y="184" font-size="12" fill="#000" textLength="45.6" lengthAdjust="spacingAndGlyphs">1311.50</text>
<text x="1679.3" y="233" font-size="12" fill="#000" textLength="45.6" lengthAdjust="spacingAndGlyphs">1305.90</text>
<text x="1679.3" y="331" font-size="12" fill="#000" textLength="45.6" lengthAdjust="spacingAndGlyphs">1294.50</text>
<text x="1679.3" y="380" font-size="12" fill="#000" textLength="45.6" lengthAdjust="spacingAndGlyphs">1288.80</text>
<text x="1679.3" y="429" font-size="12" fill="#000" textLength="45.6" lengthAdjust="spacingAndGlyphs">1283.20</text>
<text x="1679.3" y="478" font-size="12" fill="#000" textLength="45.6" lengthAdjust="spacingAndGlyphs">1277.50</text>
<text x="1679.3" y="527" font-size="12" fill="#000" textLength="45.6" lengthAdjust="spacingAndGlyphs">1271.80</text>
<g shape-rendering="crispEdges">
<rect x="1674" y="273" width="55" height="14" fill="#FF0000"/>
<rect x="1674" y="402" width="55" height="14" fill="#FF4500"/>
<rect x="1674" y="487" width="55" height="2" fill="#000"/>
<rect x="1674" y="489" width="55" height="14" fill="#00FF7F"/>
</g>
<text x="1679.3" y="285" font-size="12" fill="#fff" textLength="45.6" lengthAdjust="spacingAndGlyphs">1300.00</text>
<text x="1679.3" y="414" font-size="12" fill="#fff" textLength="45.6" lengthAdjust="spacingAndGlyphs">1285.00</text>
<text x="1679.3" y="501" font-size="12" fill="#fff" textLength="45.6" lengthAdjust="spacingAndGlyphs">1275.00</text>
<text x="1675.7" y="557" font-size="12" fill="#000" textLength="32.2" lengthAdjust="spacingAndGlyphs">4.558</text>
<text x="1676.3" y="574" font-size="12" fill="#000" textLength="24.6" lengthAdjust="spacingAndGlyphs">0.00</text>
<text x="1676" y="602.4" font-size="12" fill="#000" textLength="36" lengthAdjust="spacingAndGlyphs">-6.649</text>
<text x="1675.6" y="621" font-size="12" fill="#000" textLength="21.2" lengthAdjust="spacingAndGlyphs">100</text>
<text x="1675.2" y="652" font-size="12" fill="#000" textLength="13.8" lengthAdjust="spacingAndGlyphs">70</text>
<text x="1675.2" y="702" font-size="12" fill="#000" textLength="13.8" lengthAdjust="spacingAndGlyphs">30</text>
<text x="1676.5" y="733" font-size="12" fill="#000" textLength="6.8" lengthAdjust="spacingAndGlyphs">0</text>
<g id="macd" clip-path="url(#cMacd)">
<g shape-rendering="crispEdges">
<rect x="10" y="548" width="1" height="22" fill="#c0c0c0"/>
<rect x="18" y="548" width="1" height="22" fill="#c0c0c0"/>
<rect x="26" y="552" width="1" height="18" fill="#c0c0c0"/>
<rect x="34" y="553" width="1" height="17" fill="#c0c0c0"/>
<rect x="42" y="556" width="1" height="14" fill="#c0c0c0"/>
<rect x="50" y="560" width="1" height="10" fill="#c0c0c0"/>
<rect x="58" y="562" width="1" height="8" fill="#c0c0c0"/>
<rect x="66" y="565" width="1" height="5" fill="#c0c0c0"/>
<rect x="74" y="567" width="1" height="3" fill="#c0c0c0"/>
<rect x="82" y="566" width="1" height="4" fill="#c0c0c0"/>
<rect x="90" y="565" width="1" height="5" fill="#c0c0c0"/>
<rect x="98" y="564" width="1" height="6" fill="#c0c0c0"/>
<rect x="106" y="563" width="1" height="7" fill="#c0c0c0"/>
<rect x="114" y="563" width="1" height="7" fill="#c0c0c0"/>
<rect x="122" y="566" width="1" height="4" fill="#c0c0c0"/>
<rect x="130" y="564" width="1" height="6" fill="#c0c0c0"/>
<rect x="138" y="564" width="1" height="6" fill="#c0c0c0"/>
<rect x="146" y="564" width="1" height="6" fill="#c0c0c0"/>
<rect x="154" y="563" width="1" height="7" fill="#c0c0c0"/>
<rect x="162" y="563" width="1" height="7" fill="#c0c0c0"/>
<rect x="170" y="563" width="1" height="7" fill="#c0c0c0"/>
<rect x="178" y="562" width="1" height="8" fill="#c0c0c0"/>
<rect x="186" y="561" width="1" height="9" fill="#c0c0c0"/>
<rect x="194" y="560" width="1" height="10" fill="#c0c0c0"/>
<rect x="202" y="560" width="1" height="10" fill="#c0c0c0"/>
<rect x="210" y="560" width="1" height="10" fill="#c0c0c0"/>
<rect x="218" y="560" width="1" height="10" fill="#c0c0c0"/>
<rect x="226" y="560" width="1" height="10" fill="#c0c0c0"/>
<rect x="234" y="560" width="1" height="10" fill="#c0c0c0"/>
<rect x="242" y="560" width="1" height="10" fill="#c0c0c0"/>
<rect x="250" y="560" width="1" height="10" fill="#c0c0c0"/>
<rect x="258" y="558" width="1" height="12" fill="#c0c0c0"/>
<rect x="266" y="555" width="1" height="15" fill="#c0c0c0"/>
<rect x="274" y="551" width="1" height="19" fill="#c0c0c0"/>
<rect x="282" y="550" width="1" height="20" fill="#c0c0c0"/>
<rect x="290" y="551" width="1" height="19" fill="#c0c0c0"/>
<rect x="298" y="553" width="1" height="17" fill="#c0c0c0"/>
<rect x="306" y="554" width="1" height="16" fill="#c0c0c0"/>
<rect x="314" y="556" width="1" height="14" fill="#c0c0c0"/>
<rect x="322" y="557" width="1" height="13" fill="#c0c0c0"/>
<rect x="330" y="558" width="1" height="12" fill="#c0c0c0"/>
<rect x="338" y="558" width="1" height="12" fill="#c0c0c0"/>
<rect x="346" y="558" width="1" height="12" fill="#c0c0c0"/>
<rect x="354" y="558" width="1" height="12" fill="#c0c0c0"/>
<rect x="362" y="558" width="1" height="12" fill="#c0c0c0"/>
<rect x="370" y="557" width="1" height="13" fill="#c0c0c0"/>
<rect x="378" y="556" width="1" height="14" fill="#c0c0c0"/>
<rect x="386" y="554" width="1" height="16" fill="#c0c0c0"/>
<rect x="394" y="552" width="1" height="18" fill="#c0c0c0"/>
<rect x="402" y="550" width="1" height="20" fill="#c0c0c0"/>
<rect x="410" y="550" width="1" height="20" fill="#c0c0c0"/>
<rect x="418" y="552" width="1" height="18" fill="#c0c0c0"/>
<rect x="426" y="554" width="1" height="16" fill="#c0c0c0"/>
<rect x="434" y="556" width="1" height="14" fill="#c0c0c0"/>
<rect x="442" y="557" width="1" height="13" fill="#c0c0c0"/>
<rect x="450" y="558" width="1" height="12" fill="#c0c0c0"/>
<rect x="458" y="559" width="1" height="11" fill="#c0c0c0"/>
<rect x="466" y="561" width="1" height="9" fill="#c0c0c0"/>
<rect x="474" y="561" width="1" height="9" fill="#c0c0c0"/>
<rect x="482" y="563" width="1" height="7" fill="#c0c0c0"/>
<rect x="490" y="566" width="1" height="4" fill="#c0c0c0"/>
<rect x="498" y="569" width="1" height="1" fill="#c0c0c0"/>
<rect x="506" y="569" width="1" height="1" fill="#c0c0c0"/>
<rect x="514" y="568" width="1" height="2" fill="#c0c0c0"/>
<rect x="522" y="569" width="1" height="6" fill="#c0c0c0"/>
<rect x="530" y="569" width="1" height="12" fill="#c0c0c0"/>
<rect x="538" y="569" width="1" height="19" fill="#c0c0c0"/>
<rect x="546" y="569" width="1" height="24" fill="#c0c0c0"/>
<rect x="554" y="569" width="1" height="28" fill="#c0c0c0"/>
<rect x="562" y="569" width="1" height="32" fill="#c0c0c0"/>
<rect x="570" y="569" width="1" height="33" fill="#c0c0c0"/>
<rect x="578" y="569" width="1" height="31" fill="#c0c0c0"/>
<rect x="586" y="569" width="1" height="31" fill="#c0c0c0"/>
<rect x="594" y="569" width="1" height="31" fill="#c0c0c0"/>
<rect x="602" y="569" width="1" height="30" fill="#c0c0c0"/>
<rect x="610" y="569" width="1" height="30" fill="#c0c0c0"/>
<rect x="618" y="569" width="1" height="30" fill="#c0c0c0"/>
<rect x="626" y="569" width="1" height="30" fill="#c0c0c0"/>
<rect x="634" y="569" width="1" height="29" fill="#c0c0c0"/>
<rect x="642" y="569" width="1" height="29" fill="#c0c0c0"/>
<rect x="650" y="569" width="1" height="29" fill="#c0c0c0"/>
<rect x="658" y="569" width="1" height="29" fill="#c0c0c0"/>
<rect x="666" y="569" width="1" height="28" fill="#c0c0c0"/>
<rect x="674" y="569" width="1" height="26" fill="#c0c0c0"/>
<rect x="682" y="569" width="1" height="23" fill="#c0c0c0"/>
<rect x="690" y="569" width="1" height="21" fill="#c0c0c0"/>
<rect x="698" y="569" width="1" height="18" fill="#c0c0c0"/>
<rect x="706" y="569" width="1" height="16" fill="#c0c0c0"/>
<rect x="714" y="569" width="1" height="14" fill="#c0c0c0"/>
<rect x="722" y="569" width="1" height="13" fill="#c0c0c0"/>
<rect x="730" y="569" width="1" height="13" fill="#c0c0c0"/>
<rect x="738" y="569" width="1" height="12" fill="#c0c0c0"/>
<rect x="746" y="569" width="1" height="10" fill="#c0c0c0"/>
<rect x="754" y="569" width="1" height="9" fill="#c0c0c0"/>
<rect x="762" y="569" width="1" height="9" fill="#c0c0c0"/>
<rect x="770" y="569" width="1" height="10" fill="#c0c0c0"/>
<rect x="778" y="569" width="1" height="9" fill="#c0c0c0"/>
<rect x="786" y="569" width="1" height="8" fill="#c0c0c0"/>
<rect x="794" y="569" width="1" height="8" fill="#c0c0c0"/>
<rect x="802" y="569" width="1" height="8" fill="#c0c0c0"/>
<rect x="810" y="569" width="1" height="8" fill="#c0c0c0"/>
<rect x="818" y="569" width="1" height="7" fill="#c0c0c0"/>
<rect x="826" y="569" width="1" height="7" fill="#c0c0c0"/>
<rect x="834" y="569" width="1" height="5" fill="#c0c0c0"/>
<rect x="842" y="569" width="1" height="3" fill="#c0c0c0"/>
<rect x="850" y="569" width="1" height="1" fill="#c0c0c0"/>
<rect x="858" y="568" width="1" height="2" fill="#c0c0c0"/>
<rect x="866" y="566" width="1" height="4" fill="#c0c0c0"/>
<rect x="874" y="564" width="1" height="6" fill="#c0c0c0"/>
<rect x="882" y="563" width="1" height="7" fill="#c0c0c0"/>
<rect x="890" y="562" width="1" height="8" fill="#c0c0c0"/>
<rect x="898" y="561" width="1" height="9" fill="#c0c0c0"/>
<rect x="906" y="559" width="1" height="11" fill="#c0c0c0"/>
<rect x="914" y="557" width="1" height="13" fill="#c0c0c0"/>
<rect x="922" y="555" width="1" height="15" fill="#c0c0c0"/>
<rect x="930" y="554" width="1" height="16" fill="#c0c0c0"/>
<rect x="938" y="554" width="1" height="16" fill="#c0c0c0"/>
<rect x="946" y="554" width="1" height="16" fill="#c0c0c0"/>
<rect x="954" y="554" width="1" height="16" fill="#c0c0c0"/>
<rect x="962" y="553" width="1" height="17" fill="#c0c0c0"/>
<rect x="970" y="552" width="1" height="18" fill="#c0c0c0"/>
<rect x="978" y="551" width="1" height="19" fill="#c0c0c0"/>
<rect x="986" y="551" width="1" height="19" fill="#c0c0c0"/>
<rect x="994" y="552" width="1" height="18" fill="#c0c0c0"/>
<rect x="1002" y="554" width="1" height="16" fill="#c0c0c0"/>
<rect x="1010" y="559" width="1" height="11" fill="#c0c0c0"/>
<rect x="1018" y="564" width="1" height="6" fill="#c0c0c0"/>
<rect x="1026" y="569" width="1" height="1" fill="#c0c0c0"/>
<rect x="1034" y="569" width="1" height="2" fill="#c0c0c0"/>
<rect x="1042" y="569" width="1" height="3" fill="#c0c0c0"/>
<rect x="1050" y="569" width="1" height="5" fill="#c0c0c0"/>
<rect x="1058" y="569" width="1" height="7" fill="#c0c0c0"/>
<rect x="1066" y="569" width="1" height="8" fill="#c0c0c0"/>
<rect x="1074" y="569" width="1" height="10" fill="#c0c0c0"/>
<rect x="1082" y="569" width="1" height="12" fill="#c0c0c0"/>
<rect x="1090" y="569" width="1" height="13" fill="#c0c0c0"/>
<rect x="1098" y="569" width="1" height="15" fill="#c0c0c0"/>
<rect x="1106" y="569" width="1" height="16" fill="#c0c0c0"/>
<rect x="1114" y="569" width="1" height="16" fill="#c0c0c0"/>
<rect x="1122" y="569" width="1" height="16" fill="#c0c0c0"/>
<rect x="1130" y="569" width="1" height="17" fill="#c0c0c0"/>
<rect x="1138" y="569" width="1" height="18" fill="#c0c0c0"/>
<rect x="1146" y="569" width="1" height="18" fill="#c0c0c0"/>
<rect x="1154" y="569" width="1" height="21" fill="#c0c0c0"/>
<rect x="1162" y="569" width="1" height="24" fill="#c0c0c0"/>
<rect x="1170" y="569" width="1" height="25" fill="#c0c0c0"/>
<rect x="1178" y="569" width="1" height="26" fill="#c0c0c0"/>
<rect x="1186" y="569" width="1" height="26" fill="#c0c0c0"/>
<rect x="1194" y="569" width="1" height="26" fill="#c0c0c0"/>
<rect x="1202" y="569" width="1" height="27" fill="#c0c0c0"/>
<rect x="1210" y="569" width="1" height="28" fill="#c0c0c0"/>
<rect x="1218" y="569" width="1" height="28" fill="#c0c0c0"/>
<rect x="1226" y="569" width="1" height="28" fill="#c0c0c0"/>
<rect x="1234" y="569" width="1" height="28" fill="#c0c0c0"/>
<rect x="1242" y="569" width="1" height="26" fill="#c0c0c0"/>
<rect x="1250" y="569" width="1" height="24" fill="#c0c0c0"/>
<rect x="1258" y="569" width="1" height="23" fill="#c0c0c0"/>
<rect x="1266" y="569" width="1" height="22" fill="#c0c0c0"/>
<rect x="1274" y="569" width="1" height="20" fill="#c0c0c0"/>
<rect x="1282" y="569" width="1" height="18" fill="#c0c0c0"/>
<rect x="1290" y="569" width="1" height="16" fill="#c0c0c0"/>
<rect x="1298" y="569" width="1" height="14" fill="#c0c0c0"/>
<rect x="1306" y="569" width="1" height="13" fill="#c0c0c0"/>
<rect x="1314" y="569" width="1" height="13" fill="#c0c0c0"/>
<rect x="1322" y="569" width="1" height="12" fill="#c0c0c0"/>
</g>
<polyline points="10,558.5 13,557.3 22,554.5 34,552.7 43,552.0 59,552.5 65,554.5 72,555.0 84,557.4 91,559.0 101,561.4 109,562.6 118,563.7 121,564.5 147,564.5 151,563.1 178,563.0 196,562.6 210,561.2 230,561.0 270,560.0 280,558.0 300,556.0 310,555.0 330,554.4 350,556.0 362,557.6 378,557.4 396,556.4 410,554.4 418,553.0 440,552.4 468,554.0 478,557.0 490,559.0 506,561.6 510,563.6 524,565.0 532,569.0 538,571.0 546,575.0 558,581.0 570,586.6 582,591.6 594,597.0 610,599.4 626,600.4 642,599.4 660,599.4 678,597.4 700,595.4 712,592.0 730,589.6 736,587.0 754,584.4 772,582.0 796,580.4 804,579.0 832,578.0 844,576.0 860,574.0 886,570.0 900,565.0 920,562.0 940,558.0 964,555.4 980,553.0 990,552.4 1020,553.0 1026,555.6 1046,560.4 1056,564.0 1068,568.0 1080,573.0 1088,575.6 1102,579.4 1122,582.4 1146,585.4 1164,587.4 1176,590.4 1196,592.4 1208,595.4 1230,596.6 1250,597.4 1270,596.0 1290,593.6 1298,591.0 1314,588.4 1322,587.0" fill="none" stroke="#FF0000" stroke-width="1" stroke-dasharray="3 3" shape-rendering="crispEdges"/>
</g>
<text x="13.6" y="559" font-size="12" fill="#000" textLength="167" lengthAdjust="spacingAndGlyphs">MACD(12,26,9) -2.535 -3.333</text>
<g id="rsi" clip-path="url(#cRsi)">
<g shape-rendering="crispEdges">
<line x1="12" y1="647.5" x2="1672" y2="647.5" stroke="#c0c0c0" stroke-width="1" stroke-dasharray="3 3"/>
<line x1="12" y1="697.5" x2="1672" y2="697.5" stroke="#c0c0c0" stroke-width="1" stroke-dasharray="3 3"/>
</g>
<polyline points="10,641.4 18,646.0 26,662.4 34,667.4 42,678.4 50,681.6 58,680.4 66,679.4 74,674.4 82,663.4 90,662.4 98,667.4 106,667.4 114,671.4 122,674.4 130,663.4 138,662.4 146,663.4 154,667.4 162,666.4 170,657.4 178,665.4 186,658.0 194,660.4 202,663.4 210,664.4 218,668.4 226,672.4 234,668.4 242,679.4 250,654.4 258,652.0 266,648.4 274,648.4 282,657.4 290,667.4 298,669.4 306,670.4 314,669.4 322,663.4 330,663.4 338,662.4 346,664.4 354,666.4 362,659.4 370,656.4 378,654.4 386,650.0 394,647.0 402,651.4 410,654.4 418,667.4 426,672.4 434,670.4 442,667.6 450,666.4 458,666.4 466,673.4 474,664.4 482,678.4 490,683.4 498,682.4 506,681.4 514,682.4 522,692.5 530,705.5 538,706.5 546,704.5 554,706.5 562,707.5 570,693.5 578,688.5 586,692.5 594,692.5 602,689.5 610,693.5 618,693.5 626,690.5 634,696.5 642,695.5 650,695.5 658,696.5 666,688.5 674,686.0 682,681.4 690,680.0 698,678.4 706,680.0 714,676.4 722,682.0 730,683.4 738,677.4 746,675.4 754,674.4 762,684.0 770,687.4 778,671.4 786,674.4 794,683.4 802,677.4 810,682.4 818,672.4 826,672.4 834,672.4 842,663.4 850,661.0 858,659.4 866,661.4 874,660.4 882,660.4 890,657.4 898,655.4 906,652.4 914,645.4 922,650.4 930,650.4 938,657.4 946,656.4 954,655.4 962,646.4 970,647.4 978,647.4 986,653.4 994,658.0 1002,672.0 1010,686.0 1018,692.5 1026,689.5 1034,690.5 1042,689.5 1050,688.5 1058,691.5 1066,691.5 1074,694.5 1082,695.5 1090,699.5 1098,701.5 1106,689.5 1114,691.5 1122,689.5 1130,696.5 1138,696.5 1146,697.5 1154,710.5 1162,707.5 1170,706.5 1178,705.5 1186,697.5 1194,702.5 1202,704.5 1210,704.5 1218,703.5 1226,706.5 1234,694.5 1242,690.5 1250,695.5 1258,690.5 1266,689.5 1274,685.0 1282,678.4 1290,677.4 1298,678.4 1306,689.5 1314,687.5 1322,685.5" fill="none" stroke="#1E90FF" stroke-width="1" shape-rendering="crispEdges"/>
</g>
<text x="12.9" y="623" font-size="12" fill="#000" textLength="94" lengthAdjust="spacingAndGlyphs">RSI(14) 39.5217</text>
<g shape-rendering="crispEdges">
<rect x="10" y="737" width="1" height="3" fill="#000"/>
<rect x="106" y="737" width="1" height="3" fill="#000"/>
<rect x="202" y="737" width="1" height="3" fill="#000"/>
<rect x="298" y="737" width="1" height="3" fill="#000"/>
<rect x="394" y="737" width="1" height="3" fill="#000"/>
<rect x="490" y="737" width="1" height="3" fill="#000"/>
<rect x="586" y="737" width="1" height="3" fill="#000"/>
<rect x="682" y="737" width="1" height="3" fill="#000"/>
<rect x="778" y="737" width="1" height="3" fill="#000"/>
<rect x="874" y="737" width="1" height="3" fill="#000"/>
<rect x="970" y="737" width="1" height="3" fill="#000"/>
<rect x="1066" y="737" width="1" height="3" fill="#000"/>
<rect x="1162" y="737" width="1" height="3" fill="#000"/>
<rect x="1258" y="737" width="1" height="3" fill="#000"/>
</g>
<text x="9.4" y="752" font-size="12" fill="#000" textLength="68.8" lengthAdjust="spacingAndGlyphs">13 Mar 2019</text>
<text x="105.4" y="752" font-size="12" fill="#000" textLength="73.0" lengthAdjust="spacingAndGlyphs">15 Mar 16:00</text>
<text x="201.4" y="752" font-size="12" fill="#000" textLength="73.0" lengthAdjust="spacingAndGlyphs">19 Mar 16:00</text>
<text x="297.4" y="752" font-size="12" fill="#000" textLength="73.0" lengthAdjust="spacingAndGlyphs">21 Mar 16:00</text>
<text x="393.4" y="752" font-size="12" fill="#000" textLength="73.0" lengthAdjust="spacingAndGlyphs">25 Mar 16:00</text>
<text x="489.4" y="752" font-size="12" fill="#000" textLength="73.0" lengthAdjust="spacingAndGlyphs">27 Mar 16:00</text>
<text x="585.4" y="752" font-size="12" fill="#000" textLength="73.0" lengthAdjust="spacingAndGlyphs">29 Mar 16:00</text>
<text x="681.4" y="752" font-size="12" fill="#000" textLength="65.2" lengthAdjust="spacingAndGlyphs">2 Apr 16:00</text>
<text x="777.4" y="752" font-size="12" fill="#000" textLength="65.2" lengthAdjust="spacingAndGlyphs">4 Apr 16:00</text>
<text x="873.4" y="752" font-size="12" fill="#000" textLength="65.2" lengthAdjust="spacingAndGlyphs">8 Apr 16:00</text>
<text x="969.4" y="752" font-size="12" fill="#000" textLength="72.6" lengthAdjust="spacingAndGlyphs">10 Apr 16:00</text>
<text x="1065.4" y="752" font-size="12" fill="#000" textLength="72.6" lengthAdjust="spacingAndGlyphs">12 Apr 16:00</text>
<text x="1161.4" y="752" font-size="12" fill="#000" textLength="72.6" lengthAdjust="spacingAndGlyphs">16 Apr 16:00</text>
<text x="1257.4" y="752" font-size="12" fill="#000" textLength="72.6" lengthAdjust="spacingAndGlyphs">18 Apr 16:00</text>
</svg>
</body></html>
